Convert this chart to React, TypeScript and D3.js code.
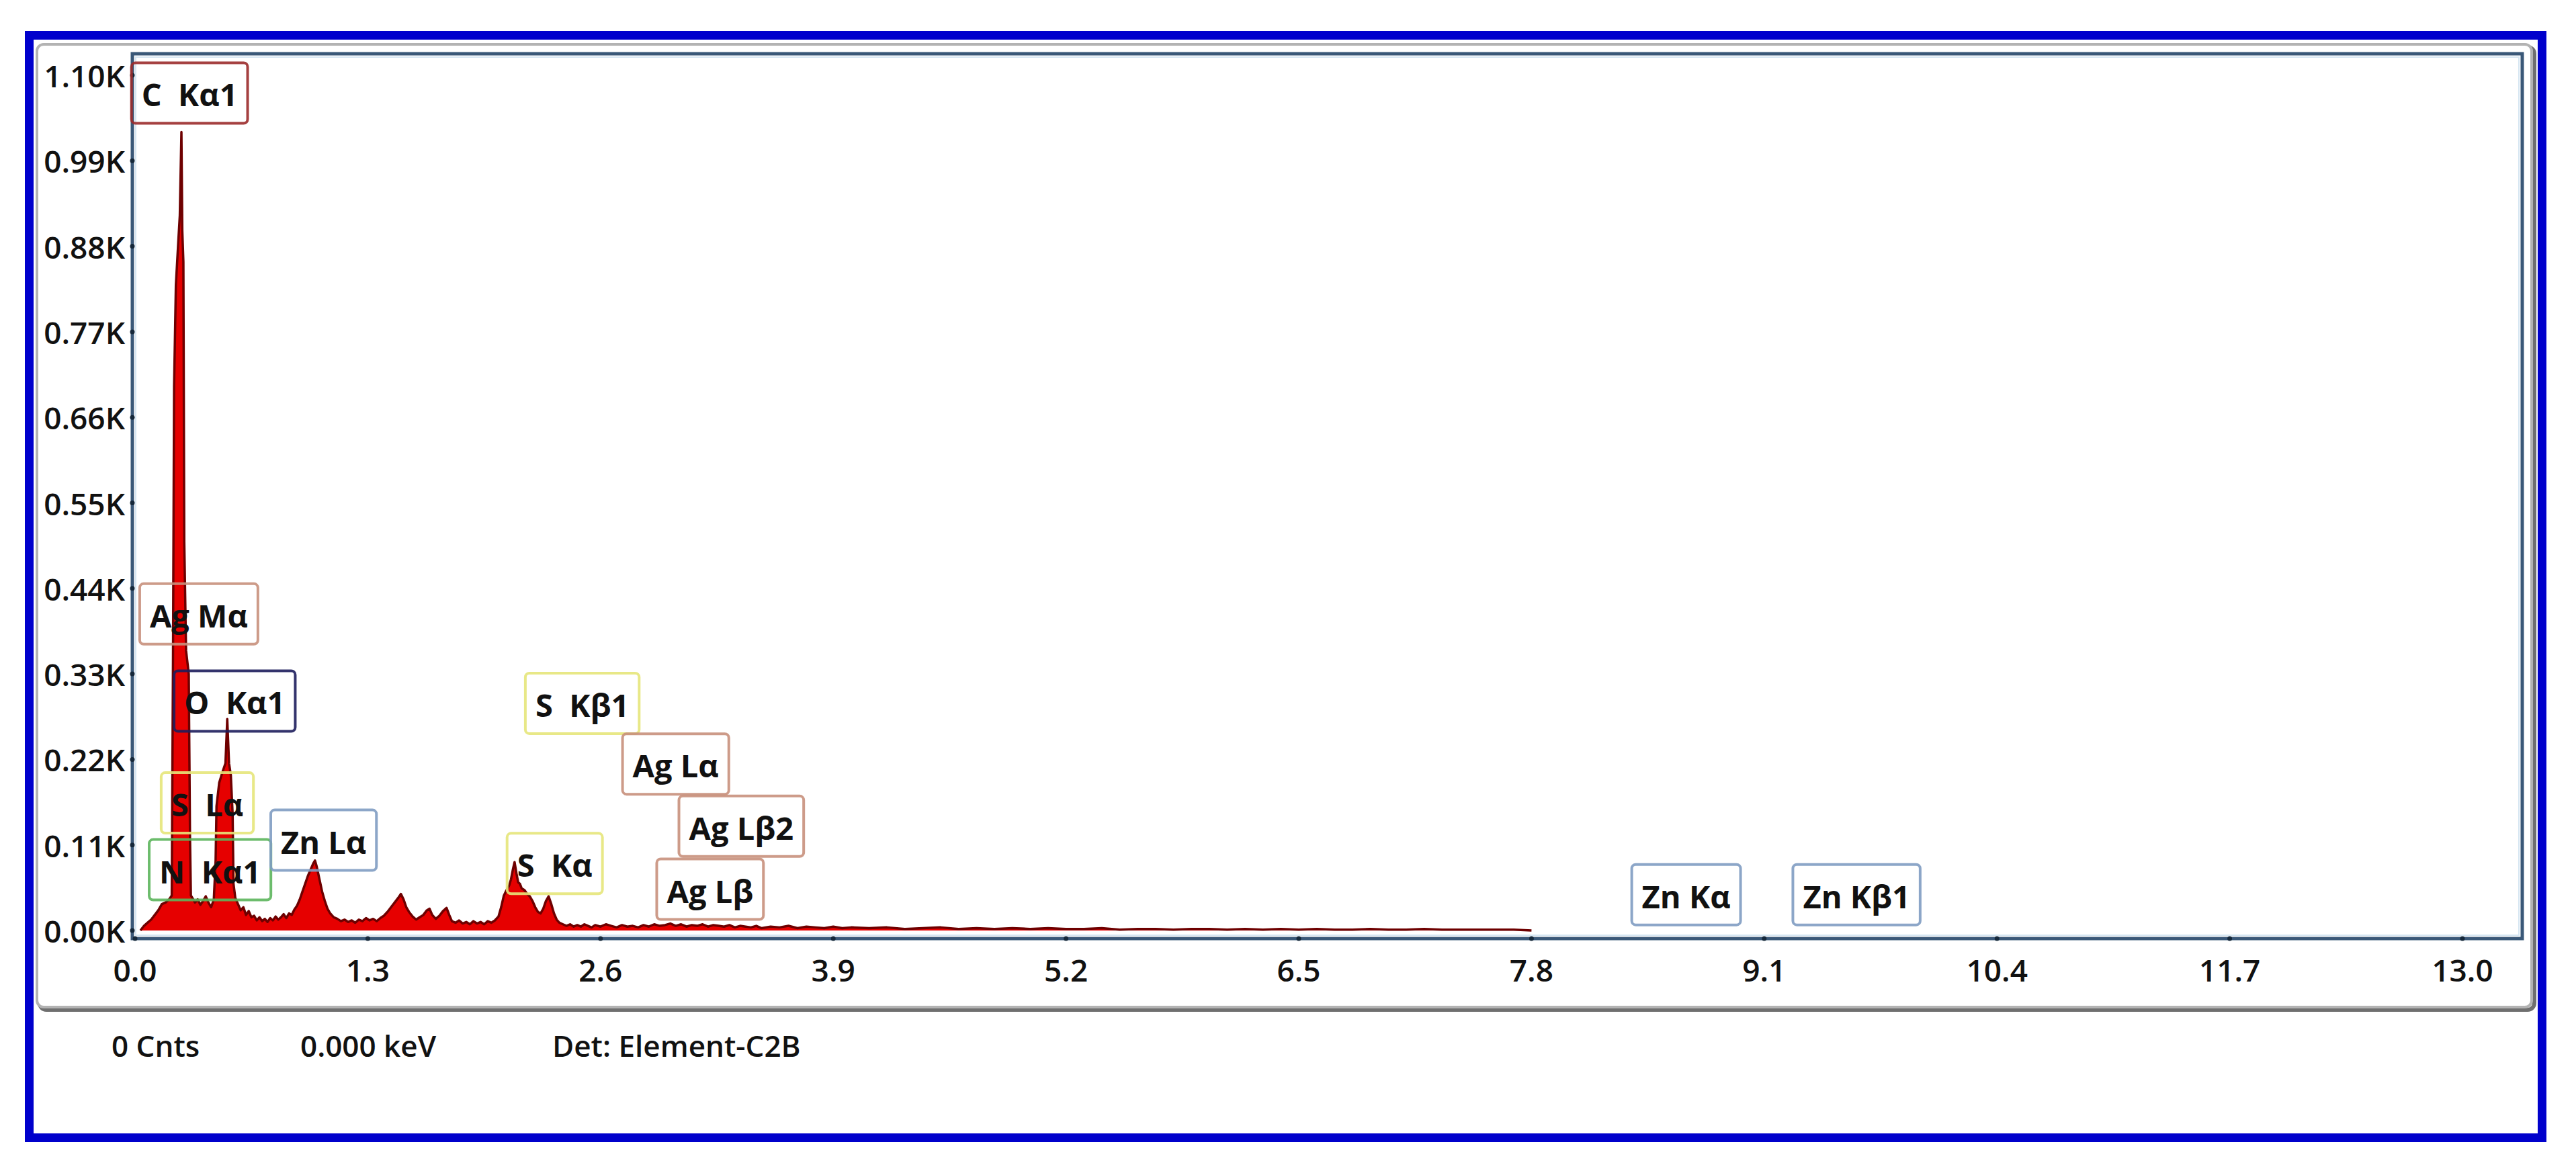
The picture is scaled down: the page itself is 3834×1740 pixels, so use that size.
import React, { useEffect, useRef } from "react";
import * as d3 from "d3";

// ---------- data ----------
const energyKeV = [
  0.03, 0.05, 0.07, 0.09, 0.11, 0.13, 0.15, 0.17, 0.19, 0.205, 0.212, 0.218, 0.228, 0.24, 0.25, 0.259, 0.264, 0.27, 0.275, 0.285, 0.3, 0.307, 0.312,
  0.32, 0.335, 0.35, 0.365, 0.38, 0.395, 0.41, 0.425, 0.44, 0.45, 0.455, 0.47, 0.49, 0.505, 0.515, 0.525, 0.535, 0.545, 0.55, 0.56,
  0.575, 0.59, 0.605, 0.62, 0.635, 0.65, 0.665, 0.68, 0.695, 0.71, 0.725, 0.74, 0.755, 0.77, 0.785, 0.8, 0.815, 0.83, 0.845, 0.86, 0.875, 0.89, 0.905, 0.92, 0.935, 0.95, 0.965, 0.98, 0.995, 1.005, 1.015, 1.03, 1.045, 1.06, 1.075, 1.09,
  1.11, 1.13, 1.15, 1.17, 1.19, 1.21, 1.23, 1.25, 1.27, 1.29, 1.31, 1.33, 1.35, 1.37, 1.39, 1.41, 1.43, 1.45, 1.47, 1.485, 1.5, 1.515, 1.53, 1.55, 1.57, 1.59, 1.61, 1.63, 1.645, 1.66, 1.68, 1.7, 1.72, 1.74, 1.755, 1.77, 1.79, 1.81, 1.83, 1.85, 1.87, 1.89, 1.91, 1.93, 1.95, 1.97, 1.99,
  2.01, 2.03, 2.045, 2.06, 2.075, 2.09, 2.1, 2.11, 2.12, 2.13, 2.14, 2.15, 2.16, 2.175, 2.19, 2.205, 2.22, 2.235, 2.25, 2.265, 2.28, 2.295, 2.31, 2.325, 2.34, 2.355, 2.37, 2.39,
  2.41, 2.43, 2.45, 2.47, 2.49, 2.51, 2.53, 2.55, 2.57, 2.6, 2.63, 2.66, 2.69, 2.72, 2.75, 2.78, 2.81, 2.84, 2.87, 2.9, 2.93, 2.96, 2.99, 3.02, 3.05, 3.08, 3.11, 3.14, 3.17, 3.2, 3.23, 3.26, 3.29, 3.32, 3.35, 3.38, 3.41, 3.44, 3.47, 3.5,
  3.55, 3.6, 3.65, 3.7, 3.75, 3.8, 3.85, 3.9, 3.95, 4.0, 4.1, 4.2, 4.3, 4.4, 4.5, 4.6, 4.7, 4.8, 4.9, 5.0, 5.1, 5.2, 5.3, 5.4, 5.5, 5.6, 5.7, 5.8, 5.9, 6.0,
  6.1, 6.2, 6.3, 6.4, 6.5, 6.6, 6.7, 6.8, 6.9, 7.0, 7.1, 7.2, 7.3, 7.4, 7.5, 7.6, 7.7, 7.8,
];
const counts = [
  0, 6, 10, 14, 20, 26, 34, 36, 40, 45, 350, 700, 830, 880, 920, 1027, 900, 860, 500, 360, 330, 120, 45,
  42, 36, 40, 33, 38, 44, 36, 30, 40, 90, 160, 190, 205, 215, 272, 215, 200, 150, 60, 42,
  34, 26, 30, 20, 25, 17, 19, 13, 17, 12, 15, 11, 16, 13, 18, 14, 17, 21, 16, 22, 20, 27, 32, 40, 50, 60, 70, 78, 86, 90, 82, 66, 50, 38, 28, 22,
  17, 15, 12, 14, 11, 13, 10, 14, 12, 16, 13, 15, 12, 16, 19, 24, 30, 36, 42, 47, 40, 30, 24, 18, 14, 17, 20, 26, 28, 20, 15, 19, 25, 29, 20, 12, 10, 13, 9, 11, 8, 12, 9, 11, 8, 12, 10,
  13, 18, 30, 45, 52, 58, 66, 78, 88, 74, 62, 60, 54, 52, 47, 44, 38, 30, 24, 22, 28, 38, 44, 34, 22, 14, 10, 8,
  6, 8, 5, 7, 5, 8, 6, 4, 7, 5, 8, 6, 4, 7, 5, 6, 4, 7, 5, 8, 6, 7, 9, 6, 8, 5, 7, 6, 8, 5, 7, 6, 5, 7, 4, 6, 5, 4, 6, 3,
  5, 4, 6, 3, 5, 4, 3, 5, 3, 4, 3, 4, 2, 3, 4, 2, 3, 2, 3, 2, 3, 2, 2, 3, 1, 2, 2, 1, 2, 2,
  1, 2, 1, 2, 1, 2, 1, 1, 2, 1, 1, 2, 1, 1, 1, 1, 1, 0,
];

const xTickValues = [0, 1.3, 2.6, 3.9, 5.2, 6.5, 7.8, 9.1, 10.4, 11.7, 13.0];
const yTickValues = [0, 110, 220, 330, 440, 550, 660, 770, 880, 990, 1100];

// peak annotations: text, left edge (keV), top (counts), element
const peakLabels = ["C  Kα1", "Ag Mα", "O  Kα1", "S  Lα", "N  Kα1", "Zn Lα", "S  Kβ1", "Ag Lα", "Ag Lβ2", "S  Kα", "Ag Lβ", "Zn Kα", "Zn Kβ1"];
const peakLabelKeV = [-0.02, 0.026, 0.218, 0.146, 0.079, 0.758, 2.18, 2.723, 3.038, 2.078, 2.914, 8.36, 9.26];
const peakLabelCounts = [1116, 446, 334, 203, 117, 155, 331, 253, 173, 125, 92, 85, 85];
const peakLabelElement = ["C", "Ag", "O", "S", "N", "Zn", "S", "Ag", "Ag", "S", "Ag", "Zn", "Zn"];

const footerTexts = ["0 Cnts", "0.000 keV", "Det: Element-C2B"];

const elementColors: Record<string, string> = {
  C: "#9b2b2b",
  Ag: "#c8907c",
  O: "#1d1d5c",
  S: "#e6e67a",
  N: "#5cb55c",
  Zn: "#7f9cc2",
};

const W = 3834;
const H = 1740;
const FONT = "'Open Sans', 'Noto Sans', 'Liberation Sans', sans-serif";

export default function App() {
  const ref = useRef<SVGSVGElement | null>(null);

  useEffect(() => {
    const svg = d3.select(ref.current);
    svg.selectAll("*").remove();

    const plot = { left: 197, top: 80, right: 3754, bottom: 1397 };
    const x = d3.scaleLinear().domain([0, 13]).range([201, 3665]);
    const y = d3.scaleLinear().domain([0, 1100]).range([1385, 112]);

    svg.append("rect").attr("width", W).attr("height", H).attr("fill", "#ffffff");

    // blue outer border
    svg.append("rect")
      .attr("x", 43.5).attr("y", 52.5).attr("width", 3740).attr("height", 1641)
      .attr("fill", "none").attr("stroke", "#0000cc").attr("stroke-width", 13);

    // gray panel with shadow
    svg.append("rect")
      .attr("x", 59).attr("y", 70).attr("width", 3713).attr("height", 1433).attr("rx", 10)
      .attr("fill", "none").attr("stroke", "#6f6f6f").attr("stroke-width", 6);
    svg.append("rect")
      .attr("x", 55).attr("y", 66).attr("width", 3713).attr("height", 1433).attr("rx", 10)
      .attr("fill", "#ffffff").attr("stroke", "#b3b3b3").attr("stroke-width", 4);

    // plot frame
    svg.append("rect")
      .attr("x", plot.left).attr("y", plot.top)
      .attr("width", plot.right - plot.left).attr("height", plot.bottom - plot.top)
      .attr("fill", "#ffffff").attr("stroke", "#3a5878").attr("stroke-width", 5);
    svg.append("rect")
      .attr("x", plot.left + 5).attr("y", plot.top + 5)
      .attr("width", plot.right - plot.left - 10).attr("height", plot.bottom - plot.top - 10)
      .attr("fill", "none").attr("stroke", "#d6e6f2").attr("stroke-width", 2);

    const data = energyKeV.map((e, i) => ({ e, c: counts[i] }));
    const area = d3.area<{ e: number; c: number }>()
      .x((d) => x(d.e)).y0(y(0)).y1((d) => y(d.c));
    const line = d3.line<{ e: number; c: number }>()
      .x((d) => x(d.e)).y((d) => y(d.c));

    svg.append("path").attr("d", area(data) as string).attr("fill", "#e60000");
    svg.append("path").attr("d", line(data) as string)
      .attr("fill", "none").attr("stroke", "#6e0000").attr("stroke-width", 3.5)
      .attr("stroke-linejoin", "round");

    // tick marks
    svg.append("g").selectAll("circle").data(xTickValues).join("circle")
      .attr("cx", (d) => x(d)).attr("cy", plot.bottom).attr("r", 3.5).attr("fill", "#15283a");
    svg.append("g").selectAll("circle").data(yTickValues).join("circle")
      .attr("cx", plot.left).attr("cy", (d) => y(d)).attr("r", 3.5).attr("fill", "#15283a");

    // tick labels
    svg.append("g").selectAll("text").data(xTickValues).join("text")
      .attr("x", (d) => x(d)).attr("y", 1443)
      .attr("text-anchor", "middle").attr("dominant-baseline", "central")
      .attr("font-family", FONT).attr("font-weight", 600).attr("font-size", 46).attr("fill", "#111")
      .text((d) => d.toFixed(1));
    svg.append("g").selectAll("text").data(yTickValues).join("text")
      .attr("x", 186).attr("y", (d) => y(d))
      .attr("text-anchor", "end").attr("dominant-baseline", "central")
      .attr("font-family", FONT).attr("font-weight", 600).attr("font-size", 46).attr("fill", "#111")
      .text((d) => (d / 1000).toFixed(2) + "K");

    // peak labels
    const boxH = 90;
    const pad = 15;
    const lg = svg.append("g");
    peakLabels.forEach((t, i) => {
      const g = lg.append("g")
        .attr("transform", `translate(${x(peakLabelKeV[i])},${y(peakLabelCounts[i])})`);
      const rect = g.append("rect").attr("height", boxH).attr("rx", 6)
        .attr("fill", "none").attr("stroke", elementColors[peakLabelElement[i]])
        .attr("stroke-width", 4).attr("stroke-opacity", 0.9);
      const txt = g.append("text")
        .attr("x", pad).attr("y", boxH / 2 + 2)
        .attr("dominant-baseline", "central")
        .attr("font-family", FONT).attr("font-weight", 700).attr("font-size", 47)
        .attr("fill", "#111").style("white-space", "pre")
        .attr("xml:space", "preserve")
        .text(t);
      const len = (txt.node() as SVGTextElement).getComputedTextLength();
      rect.attr("width", len + pad * 2);
    });

    // footer
    const footerX = [166, 447, 822];
    svg.append("g").selectAll("text").data(footerTexts).join("text")
      .attr("x", (_d, i) => footerX[i]).attr("y", 1556)
      .attr("dominant-baseline", "central")
      .attr("font-family", FONT).attr("font-weight", 600).attr("font-size", 44).attr("fill", "#111")
      .text((d) => d);
  }, []);

  return (
    <svg
      ref={ref}
      width={W}
      height={H}
      style={{ position: "absolute", left: 0, top: 0, display: "block" }}
    />
  );
}
